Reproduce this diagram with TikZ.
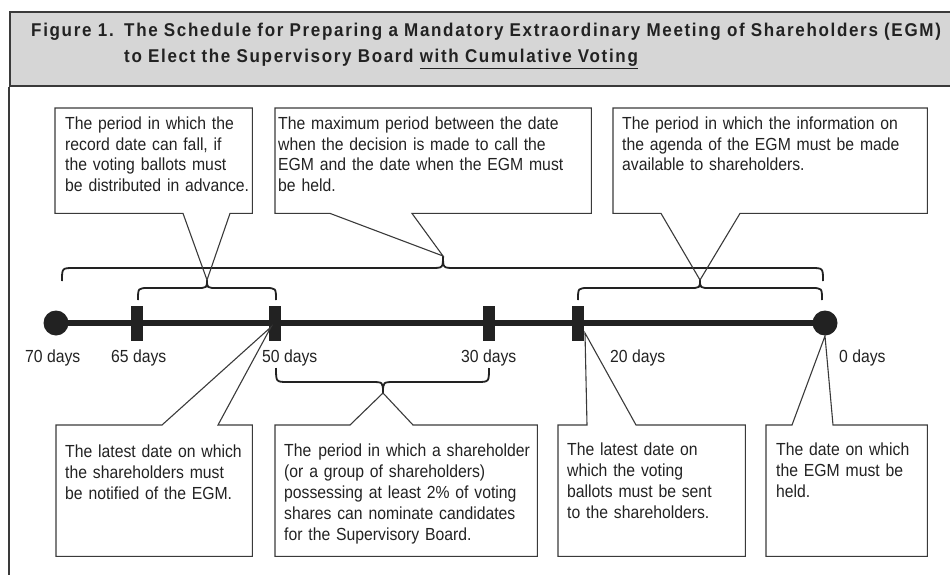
\documentclass[tikz,border=0pt]{standalone}
\usepackage{fontspec}
\setmainfont{Liberation Sans}[FakeStretch=0.9]
\newfontfamily\titlefont{Liberation Sans Bold}[FakeStretch=0.92, LetterSpace=9]
\usetikzlibrary{calc}
\definecolor{ink}{HTML}{222222}
\definecolor{framec}{HTML}{3A3A3A}
\definecolor{hdr}{HTML}{D6D6D6}
\begin{document}
\begin{tikzpicture}[x=1pt,y=-1pt,
  txt/.style={inner sep=0pt, anchor=base west, align=left, text=ink,
    font=\fontsize{17.5}{20.5}\selectfont},
  txtlow/.style={txt, font=\fontsize{17.5}{21.2}\selectfont},
  ttl/.style={inner sep=0pt, anchor=base west, align=left, text=ink,
    font=\titlefont\fontsize{18.5}{26}\selectfont},
  boxgeom/.style={anchor=north west, inner sep=0pt, draw=none},
  callout/.style={draw=framec, line width=1.1pt, line join=miter},
  brace/.style={draw=ink, line width=1.8pt},
  tickmark/.style={fill=ink, minimum width=12pt, minimum height=35pt, inner sep=0pt},
  enddot/.style={circle, fill=ink, minimum size=25pt, inner sep=0pt},
  axis/.style={draw=ink, line width=6pt},
  daylab/.style={txt}]
\useasboundingbox (0,0) rectangle (950,575);
% header and frame
\node[boxgeom, draw=framec, fill=hdr, line width=2pt, minimum width=960pt, minimum height=74pt] (header) at (9,11) {};
\coordinate (framebottom) at (9,580);
\draw[framec, line width=2pt] (header.south west) -- (framebottom);
\node[ttl] (fignum) at (31,37) {Figure 1.};
\node[ttl, text width=880pt] (title) at (124,37) {The Schedule for Preparing a Mandatory Extraordinary Meeting of Shareholders (EGM)\\to Elect the Supervisory Board \underline{with Cumulative Voting}};
% timeline
\node[enddot] (d70) at (56,323) {};
\node[enddot] (d0) at (825,323) {};
\draw[axis] (d70.center) -- (d0.center);
\node[tickmark] (t65) at (137,323.5) {};
\node[tickmark] (t50) at (275,323.5) {};
\node[tickmark] (t30) at (489,323.5) {};
\node[tickmark] (t20) at (578,323.5) {};
\node[daylab] (l70) at (25,362) {70 days};
\node[daylab] (l65) at (111,362) {65 days};
\node[daylab] (l50) at (262,362) {50 days};
\node[daylab] (l30) at (461,362) {30 days};
\node[daylab] (l20) at (610,362) {20 days};
\node[daylab] (l0) at (839,362) {0 days};
% braces
\coordinate (bigtip) at (443,256);
\coordinate (recordtip) at (207,280);
\coordinate (infotip) at (700,280);
\coordinate (nomtip) at (383,393);
\draw[brace] (62,281) .. controls (62,268) .. (74,268) -- (431,268) .. controls (443,268) .. (bigtip) .. controls (443,268) .. (455,268) -- (811,268) .. controls (823,268) .. (823,281);
\draw[brace] (138,300) .. controls (138,288) .. (149,288) -- (196,288) .. controls (207,288) .. (recordtip) .. controls (207,288) .. (218,288) -- (265,288) .. controls (276,288) .. (276,300);
\draw[brace] (578,300) .. controls (578,288) .. (589,288) -- (689,288) .. controls (700,288) .. (infotip) .. controls (700,288) .. (711,288) -- (811,288) .. controls (822,288) .. (822,300);
\draw[brace] (276,368) .. controls (276,382) .. (288,382) -- (371,382) .. controls (383,382) .. (nomtip) .. controls (383,382) .. (395,382) -- (477,382) .. controls (489,382) .. (489,368);
\coordinate (notiftip) at (271,327);
\coordinate (ballottip) at (585,333);
\coordinate (egmtip) at (825,336);
% top callouts
\node[boxgeom, minimum width=197pt, minimum height=105pt] (A) at (55,108) {};
\draw[callout] (A.south west) -- (A.north west) -- (A.north east) -- (A.south east) -- ($(A.south west)+(175,0)$) -- (recordtip) -- ($(A.south west)+(128,0)$) -- cycle;
\node[txt, text width=195pt] (Atext) at (65,130) {The period in which the\\record date can fall, if\\the voting ballots must\\be distributed in advance.};
\node[boxgeom, minimum width=316pt, minimum height=105pt] (B) at (275,108) {};
\draw[callout] (B.south west) -- (B.north west) -- (B.north east) -- (B.south east) -- ($(B.south west)+(137,0)$) -- (bigtip) -- ($(B.south west)+(55,0)$) -- cycle;
\node[txt, text width=310pt] (Btext) at (278,130) {The maximum period between the date\\when the decision is made to call the\\EGM and the date when the EGM must\\be held.};
\node[boxgeom, minimum width=314pt, minimum height=105pt] (C) at (613,108) {};
\draw[callout] (C.south west) -- (C.north west) -- (C.north east) -- (C.south east) -- ($(C.south west)+(127,0)$) -- (infotip) -- ($(C.south west)+(48,0)$) -- cycle;
\node[txt, text width=310pt] (Ctext) at (622,130) {The period in which the information on\\the agenda of the EGM must be made\\available to shareholders.};
% bottom callouts
\node[boxgeom, minimum width=196pt, minimum height=131pt] (D) at (56,425) {};
\draw[callout] (D.north west) -- ($(D.north west)+(106,0)$) -- (notiftip) -- ($(D.north west)+(162,0)$) -- (D.north east) -- (D.south east) -- (D.south west) -- cycle;
\node[txtlow, text width=195pt] (Dtext) at (65,457) {The latest date on which\\the shareholders must\\be notified of the EGM.};
\node[boxgeom, minimum width=262pt, minimum height=131pt] (E) at (275,425) {};
\draw[callout] (E.north west) -- ($(E.north west)+(75,0)$) -- (nomtip) -- ($(E.north west)+(138,0)$) -- (E.north east) -- (E.south east) -- (E.south west) -- cycle;
\node[txtlow, text width=260pt] (Etext) at (284,456) {The\hspace{7pt}period in which a shareholder\\(or a group of shareholders)\\possessing at least 2\% of voting\\shares can nominate candidates\\for the Supervisory Board.};
\node[boxgeom, minimum width=187pt, minimum height=131pt] (F) at (558,425) {};
\draw[callout] (F.north west) -- ($(F.north west)+(29,0)$) -- (ballottip) -- ($(F.north west)+(78,0)$) -- (F.north east) -- (F.south east) -- (F.south west) -- cycle;
\node[txtlow, text width=185pt] (Ftext) at (567,455) {The latest date on\\which the voting\\ballots must be sent\\to the shareholders.};
\node[boxgeom, minimum width=161pt, minimum height=131pt] (G) at (766,425) {};
\draw[callout] (G.north west) -- ($(G.north west)+(26,0)$) -- (egmtip) -- ($(G.north west)+(67,0)$) -- (G.north east) -- (G.south east) -- (G.south west) -- cycle;
\node[txtlow, text width=160pt] (Gtext) at (776,455) {The date on which\\the EGM must be\\held.};
\end{tikzpicture}
\end{document}
